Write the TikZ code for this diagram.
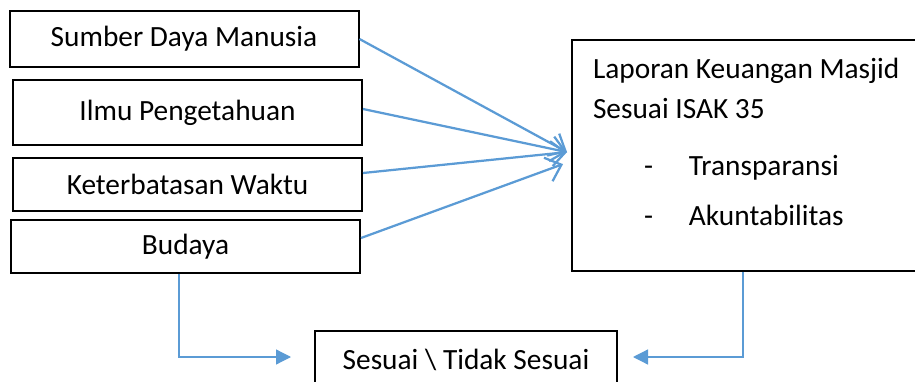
\documentclass[tikz,border=0pt]{standalone}
\usepackage{fontspec}
\setmainfont{Carlito}
\usetikzlibrary{arrows.meta}
\definecolor{linkblue}{RGB}{91,155,213}

\begin{document}
\begin{tikzpicture}[
  font=\fontsize{16.7}{22.8}\selectfont,
  fac/.style={draw, line width=0.4mm, inner sep=0pt, minimum width=69.8mm},
  res/.style={draw, line width=0.4mm, align=flush left, inner ysep=0pt, inner xsep=4.2mm},
  infl/.style={draw=linkblue, line width=0.45mm, -{Straight Barb[length=2.8mm, width=5mm]}},
  flow/.style={draw=linkblue, line width=0.25mm, -{Triangle[length=3mm, width=3mm]}}
]
\useasboundingbox (0,0) rectangle (183mm,-76.2mm);

\node[fac, minimum height=11.2mm] (sdm) at (36.8mm,-7.8mm) {Sumber Daya Manusia};
\node[fac, minimum height=13mm] (ilmu) at (37.5mm,-22.5mm) {Ilmu Pengetahuan};
\node[fac, minimum height=10.6mm] (waktu) at (37.5mm,-36.9mm) {Keterbatasan Waktu};
\node[fac, minimum height=10.6mm] (budaya) at (37.1mm,-49.3mm) {\raisebox{-0.6mm}{Budaya}};

\node[res, text width=66mm, anchor=north west] (lap) at (114.2mm,-7.8mm)
  {\rule{0pt}{7.6mm}Laporan Keuangan Masjid\\ Sesuai ISAK 35\\[3.4mm]
   \hspace*{10.2mm}\makebox[9mm][l]{-}Transparansi\\[2mm]
   \hspace*{10.2mm}\makebox[9mm][l]{-}Akuntabilitas\rule[-9.2mm]{0pt}{9.2mm}};

\node[fac, minimum width=60.4mm, minimum height=11.6mm] (hasil) at (93.2mm,-72mm)
  {Sesuai \textbackslash{} Tidak Sesuai};

\coordinate (hit) at ([xshift=-0.8mm, yshift=0.7mm]lap.west);
\coordinate (hit2) at ([xshift=-1.6mm, yshift=-1.7mm]lap.west);

\draw[infl] (sdm.east) -- (hit);
\draw[infl] ([yshift=0.7mm]ilmu.east) -- (hit);
\draw[infl] ([yshift=2.3mm]waktu.east) -- (hit);
\draw[infl] ([yshift=1.7mm]budaya.east) -- (hit2);

\draw[flow] ([xshift=-1.3mm]budaya.south) |- ([xshift=-4.6mm, yshift=0.6mm]hasil.west);
\draw[flow] ([xshift=34.4mm]lap.south west) |- ([xshift=3mm, yshift=0.6mm]hasil.east);
\end{tikzpicture}
\end{document}
